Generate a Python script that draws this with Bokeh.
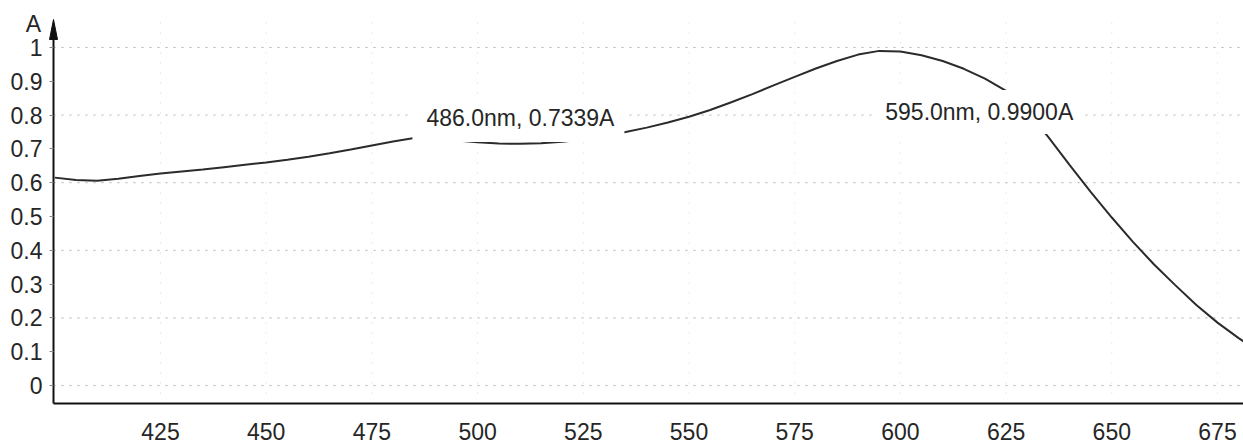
from bokeh.plotting import figure
from bokeh.models import Range1d, FixedTicker, Label
from bokeh.embed import file_html
from bokeh.resources import INLINE

# Absorbance spectrum, wavelength in nm
wavelength = [400, 405, 410, 415, 420, 425, 430, 435, 440, 445, 450, 455, 460, 465,
              470, 475, 480, 485, 486.0, 490, 495, 500, 505, 510, 515, 520, 525, 530,
              535, 540, 545, 550, 555, 560, 565, 570, 575, 580, 585, 590, 595.0, 600,
              605, 610, 615, 620, 625, 630, 635, 640, 645, 650, 655, 660, 665, 670,
              675, 680, 682]
absorbance = [0.615, 0.608, 0.606, 0.612, 0.620, 0.627, 0.633, 0.639, 0.646, 0.653,
              0.660, 0.668, 0.677, 0.687, 0.698, 0.710, 0.722, 0.732, 0.7339, 0.731,
              0.725, 0.720, 0.716, 0.715, 0.717, 0.721, 0.728, 0.738, 0.750, 0.763,
              0.778, 0.795, 0.815, 0.838, 0.862, 0.888, 0.913, 0.938, 0.960, 0.979,
              0.9900, 0.988, 0.977, 0.960, 0.937, 0.908, 0.872, 0.812, 0.735, 0.653,
              0.573, 0.497, 0.425, 0.358, 0.297, 0.238, 0.186, 0.140, 0.124]

# Marked peaks
peak_nm = [486.0, 595.0]
peak_abs = [0.7339, 0.9900]

x_ticks = [425, 450, 475, 500, 525, 550, 575, 600, 625, 650, 675]
y_ticks = [0, 0.1, 0.2, 0.3, 0.4, 0.5, 0.6, 0.7, 0.8, 0.9, 1]
y_tick_labels = ["0", "0.1", "0.2", "0.3", "0.4", "0.5", "0.6", "0.7", "0.8", "0.9", "1"]
y_grid = [0, 0.2, 0.4, 0.6, 0.8, 1]

FONT = "Liberation Sans"
W, H = 1243, 443

# the plot frame fills the canvas; axes sit at fixed positions inside it
NM_PER_PX = 250 / 1057
A_PER_PX = 1 / 338
XS = 425 - 160 * NM_PER_PX
XE = XS + W * NM_PER_PX
YE = 385 * A_PER_PX
YS = YE - H * A_PER_PX


def px_x(px):
    return XS + px * NM_PER_PX


def px_y(py):
    return YE - py * A_PER_PX


AXIS_X = px_x(53)     # wavelength origin of the absorbance axis
AXIS_Y = px_y(403)    # absorbance level of the wavelength axis
TIP_Y = px_y(19)      # top of the absorbance axis arrow

p = figure(width=W, height=H, output_backend="svg", toolbar_location=None,
           x_range=Range1d(XS, XE), y_range=Range1d(YS, YE),
           min_border=0)
p.outline_line_color = None
p.background_fill_color = "white"
p.border_fill_color = "white"
p.xgrid.visible = False
p.ygrid.visible = False

# dotted grid
p.segment(x0=[AXIS_X] * len(y_grid), y0=y_grid, x1=[XE] * len(y_grid), y1=y_grid,
          line_color="#8f8f8f", line_dash="2 6", line_width=1, line_alpha=0.7)
p.segment(x0=x_ticks, y0=[AXIS_Y] * len(x_ticks), x1=x_ticks,
          y1=[px_y(20)] * len(x_ticks),
          line_color="#a0a0a0", line_dash="1 9", line_width=1, line_alpha=0.4)

# axes
p.xaxis.fixed_location = AXIS_Y
p.yaxis.fixed_location = AXIS_X
p.xaxis.bounds = (AXIS_X, XE)
p.yaxis.bounds = (AXIS_Y, px_y(30))
p.xaxis.ticker = FixedTicker(ticks=x_ticks)
p.yaxis.ticker = FixedTicker(ticks=y_ticks)
p.yaxis.major_label_overrides = {t: s for t, s in zip(y_ticks, y_tick_labels)}
for ax in (p.xaxis, p.yaxis):
    ax.axis_line_color = "#111111"
    ax.axis_line_width = 2
    ax.minor_tick_line_color = None
    ax.major_label_text_font = FONT
    ax.major_label_text_font_size = "23px"
    ax.major_label_text_color = "#262626"
p.xaxis.major_tick_line_color = None
p.xaxis.major_tick_out = 0
p.xaxis.major_label_standoff = 19
p.yaxis.major_tick_line_color = "#888888"
p.yaxis.major_tick_in = 0
p.yaxis.major_tick_out = 4
p.yaxis.major_label_standoff = 7

# spectrum
p.line(wavelength, absorbance, line_color="#2b2b2b", line_width=2)

# arrow head on the absorbance axis
p.patch([AXIS_X - 4 * NM_PER_PX, AXIS_X, AXIS_X + 4 * NM_PER_PX],
        [TIP_Y - 20 * A_PER_PX, TIP_Y, TIP_Y - 20 * A_PER_PX],
        fill_color="#111111", line_color="#111111", line_width=1)
p.add_layout(Label(x=AXIS_X, y=TIP_Y, x_offset=-20, y_offset=-4, text="A",
                   text_font=FONT, text_font_size="23px", text_color="#262626",
                   text_align="center", text_baseline="middle"))

# peak annotations
offsets = [(100, 18, dict(left=14, right=10, top=8, bottom=11)),
           (99, -61, dict(left=12, right=10, top=9, bottom=9))]
for (nm, a), (dx, dy, pad) in zip(zip(peak_nm, peak_abs), offsets):
    p.add_layout(Label(x=nm, y=a, x_offset=dx, y_offset=dy,
                       text=f"{nm:.1f}nm, {a:.4f}A",
                       text_font=FONT, text_font_size="23px", text_color="#262626",
                       text_align="center", text_baseline="middle",
                       background_fill_color="white", background_fill_alpha=1.0,
                       padding=pad))

open("out.html", "w").write(file_html(p, INLINE))
